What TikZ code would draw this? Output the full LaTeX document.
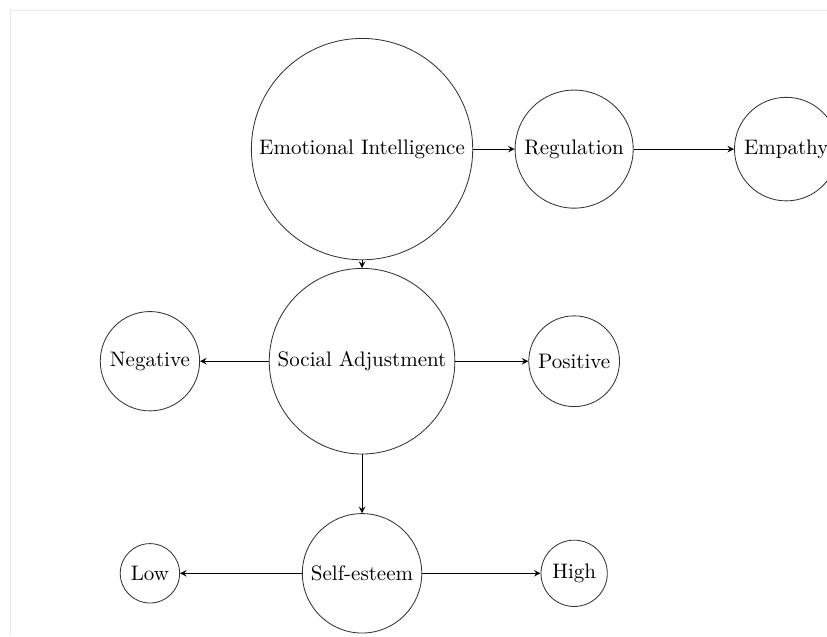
\documentclass[tikz,border=0pt]{standalone}
\usepackage{tikz}
\usepackage{amsmath}
\usepackage{amssymb}
\definecolor{framegray}{RGB}{238,234,222}
\begin{document}
\begin{tikzpicture}[auto,>=stealth,x=101pt,y=101pt]
                \useasboundingbox (-172.4pt,-231.9pt) rectangle (221.4pt,71pt);
                \draw[framegray] (-167.6pt,-231.9pt) -- (-167.6pt,66.2pt) -- (221.4pt,66.2pt);
                \begin{scope}[every node/.style={circle,draw=black!80}]
                    \node (EI) at (0,0) {Emotional Intelligence};
                    \node (Reg) at (1,0) {Regulation};
                    \node (Emp) at (2,0) {Empathy};
                    \node (SA) at (0,-1) {Social Adjustment};
                    \node (Neg) at (-1,-1) {Negative};
                    \node (Pos) at (1,-1) {Positive};
                    \node (SE) at (0,-2) {Self-esteem};
                    \node (Low) at (-1,-2) {Low};
                    \node (High) at (1,-2) {High};
                \end{scope}
                \begin{scope}[every edge/.style={draw=black}]
                    \draw (EI) edge [->] (Reg);
                    \draw (Reg) edge [->] (Emp);
                    \draw (EI) edge [->] (SA);
                    \draw (SA) edge [->] (Neg);
                    \draw (SA) edge [->] (Pos);
                    \draw (SA) edge [->] (SE);
                    \draw (SE) edge [->] (Low);
                    \draw (SE) edge [->] (High);
                \end{scope}
            \end{tikzpicture}
\end{document}
